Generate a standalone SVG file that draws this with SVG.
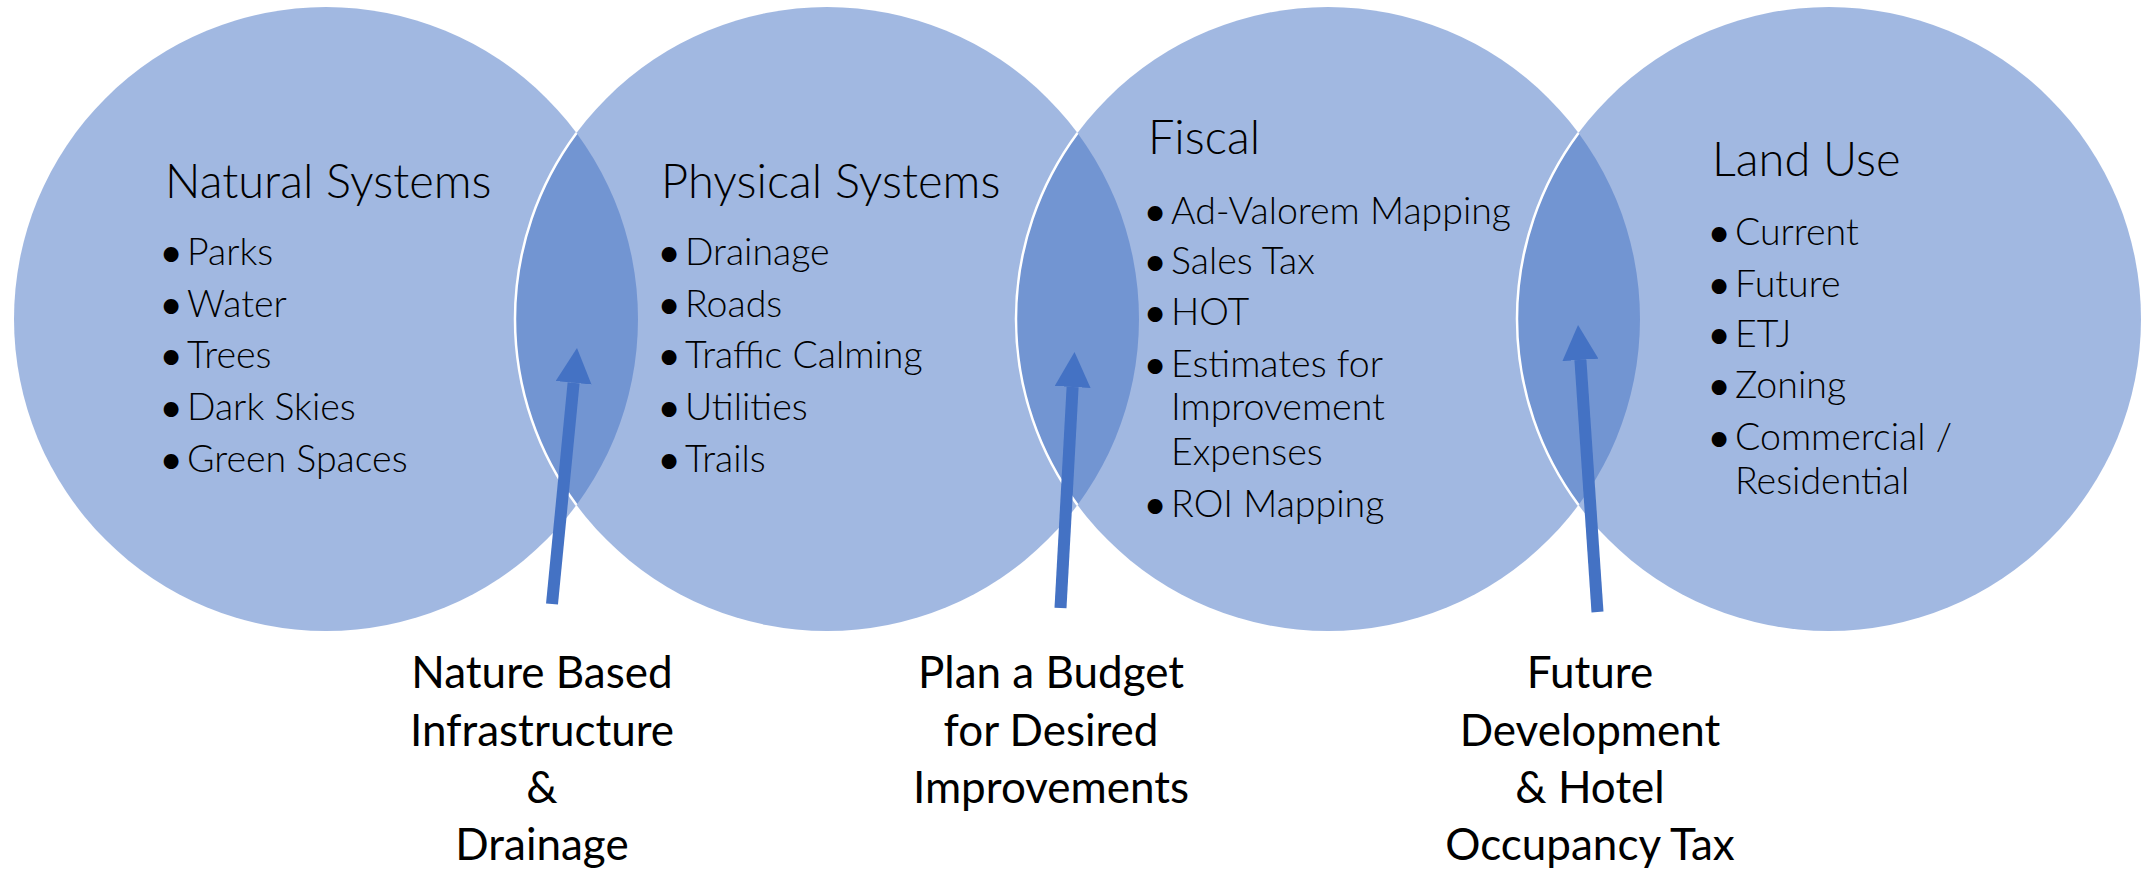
<svg xmlns="http://www.w3.org/2000/svg" width="2145" height="871" viewBox="0 0 2145 871">
<style>
.c{fill:#4472C4;fill-opacity:0.5}
.edge{fill:none;stroke:#ffffff;stroke-width:2.5}
.t{font-family:Lato,"Open Sans","Liberation Sans",sans-serif;fill:#000}
.title{font-size:47px;font-weight:300}
.item{font-size:37.5px;font-weight:300}
.lab{font-size:44px;font-weight:400;text-anchor:middle}
.dot{text-anchor:middle;font-weight:700;font-size:34px}
.arr{stroke:#4472C4;stroke-width:12;fill:none;marker-end:url(#ah)}
</style>
<defs>
<marker id="ah" markerUnits="userSpaceOnUse" viewBox="0 0 35 36" markerWidth="35" markerHeight="36" refX="0" refY="18" orient="auto">
<path d="M0,0 L35,18 L0,36 Z" fill="#4472C4"/>
</marker>
</defs>
<rect width="2145" height="871" fill="#ffffff"/>
<g id="node-natural">
<circle class="c" cx="326" cy="319" r="312"/>
<text class="t title" x="165" y="198">Natural Systems</text>
<g class="t item">
<text class="dot" x="171" y="265">•</text><text x="187" y="265">Parks</text>
<text class="dot" x="171" y="317">•</text><text x="187" y="317">Water</text>
<text class="dot" x="171" y="368">•</text><text x="187" y="368">Trees</text>
<text class="dot" x="171" y="420">•</text><text x="187" y="420">Dark Skies</text>
<text class="dot" x="171" y="472">•</text><text x="187" y="472">Green Spaces</text>
</g>
</g>
<g id="node-physical">
<circle class="c" cx="827" cy="319" r="312"/>
<text class="t title" x="661" y="198">Physical Systems</text>
<g class="t item">
<text class="dot" x="669" y="265">•</text><text x="685" y="265">Drainage</text>
<text class="dot" x="669" y="317">•</text><text x="685" y="317">Roads</text>
<text class="dot" x="669" y="368">•</text><text x="685" y="368">Traffic Calming</text>
<text class="dot" x="669" y="420">•</text><text x="685" y="420">Utilities</text>
<text class="dot" x="669" y="472">•</text><text x="685" y="472">Trails</text>
</g>
</g>
<g id="node-fiscal">
<circle class="c" cx="1328" cy="319" r="312"/>
<text class="t title" x="1148" y="154">Fiscal</text>
<g class="t item">
<text class="dot" x="1155" y="224">•</text><text x="1171" y="224">Ad-Valorem Mapping</text>
<text class="dot" x="1155" y="274">•</text><text x="1171" y="274">Sales Tax</text>
<text class="dot" x="1155" y="325">•</text><text x="1171" y="325">HOT</text>
<text class="dot" x="1155" y="377">•</text><text x="1171" y="377">Estimates for</text>
<text x="1171" y="420">Improvement</text>
<text x="1171" y="465">Expenses</text>
<text class="dot" x="1155" y="517">•</text><text x="1171" y="517">ROI Mapping</text>
</g>
</g>
<g id="node-landuse">
<circle class="c" cx="1829" cy="319" r="312"/>
<text class="t title" x="1712" y="176">Land Use</text>
<g class="t item">
<text class="dot" x="1719" y="245">•</text><text x="1735" y="245">Current</text>
<text class="dot" x="1719" y="297">•</text><text x="1735" y="297">Future</text>
<text class="dot" x="1719" y="347">•</text><text x="1735" y="347">ETJ</text>
<text class="dot" x="1719" y="398">•</text><text x="1735" y="398">Zoning</text>
<text class="dot" x="1719" y="450">•</text><text x="1735" y="450">Commercial /</text>
<text x="1735" y="494">Residential</text>
</g>
</g>
<g id="overlap-edges">
<path class="edge" d="M576.5,133 A312,312 0 0 0 576.5,505"/>
<path class="edge" d="M1077.5,133 A312,312 0 0 0 1077.5,505"/>
<path class="edge" d="M1578.5,133 A312,312 0 0 0 1578.5,505"/>
</g>
<g id="connectors">
<line class="arr" x1="552" y1="604" x2="573.6" y2="382.8"/>
<line class="arr" x1="1060.5" y1="608" x2="1072.6" y2="387"/>
<line class="arr" x1="1597.5" y1="612" x2="1580.4" y2="359.9"/>
</g>
<g id="label-nature" class="t lab">
<text x="542" y="688">Nature Based</text>
<text x="542" y="746">Infrastructure</text>
<text x="542" y="803">&amp;</text>
<text x="542" y="860">Drainage</text>
</g>
<g id="label-budget" class="t lab">
<text x="1051" y="688">Plan a Budget</text>
<text x="1051" y="746">for Desired</text>
<text x="1051" y="803">Improvements</text>
</g>
<g id="label-future" class="t lab">
<text x="1590" y="688">Future</text>
<text x="1590" y="746">Development</text>
<text x="1590" y="803">&amp; Hotel</text>
<text x="1590" y="860">Occupancy Tax</text>
</g>
</svg>
